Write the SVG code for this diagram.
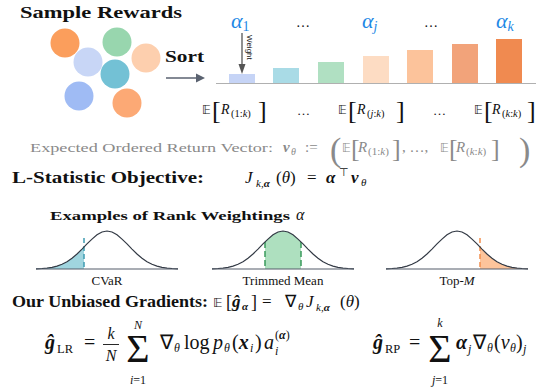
<svg xmlns="http://www.w3.org/2000/svg" width="536" height="390" viewBox="0 0 536 390" font-family="Liberation Serif">
<defs>
<style>
text{fill:#111;font-family:"Liberation Serif",serif}
.b{font-weight:bold}
.i{font-style:italic}
.bi{font-weight:bold;font-style:italic}
.bb{font-family:"DejaVu Sans",sans-serif}
.sn{font-family:"Liberation Sans",sans-serif}
.al{fill:#1e88e5;font-style:italic}
.gr{fill:#8a8a8a}
.curve{fill:none;stroke:#333a45;stroke-width:1.2}
.base{stroke:#555d6b;stroke-width:1.2}
</style>
<path id="bell" d="M-71,-0.21 L-65,-0.48 L-60,-0.92 L-55,-1.67 L-50,-2.87 L-45,-4.69 L-40,-7.28 L-35,-10.72 L-30,-14.99 L-25,-19.92 L-20,-25.14 L-15,-29.88 L-10,-34.27 L-5,-37.03 L0,-38 L5,-37.03 L10,-34.27 L15,-29.88 L20,-25.14 L25,-19.92 L30,-14.99 L35,-10.72 L40,-7.28 L45,-4.69 L50,-2.87 L55,-1.67 L60,-0.92 L65,-0.48 L71,-0.21"/>
</defs>
<rect width="536" height="390" fill="#fff"/>

<g id="samples">
<text class="b" x="20" y="18" font-size="17" textLength="162" lengthAdjust="spacingAndGlyphs">Sample Rewards</text>
<circle cx="65" cy="43" r="14.5" fill="#fb9e5c"/>
<circle cx="117" cy="42" r="14.5" fill="#98d6ae"/>
<circle cx="146" cy="58" r="14.5" fill="#fdcfae"/>
<circle cx="88" cy="62" r="14.5" fill="#c8d6f6"/>
<circle cx="115" cy="74" r="14.5" fill="#73c1d5"/>
<circle cx="79" cy="96" r="14.5" fill="#9fbbf4"/>
<circle cx="127" cy="103" r="14.5" fill="#fca975"/>
</g>

<g id="sort">
<text class="b" x="165" y="62" font-size="16" textLength="39" lengthAdjust="spacingAndGlyphs">Sort</text>
<line x1="166" y1="78" x2="197" y2="78" stroke="#5a6270" stroke-width="1.5"/>
<polygon points="196,73.5 205,78 196,82.5" fill="#5a6270"/>
</g>

<g id="bars">
<line x1="216" y1="83.5" x2="536" y2="83.5" stroke="#b0b0b0" stroke-width="1"/>
<rect x="229" y="74" width="26" height="9" fill="#c6d4f6"/>
<rect x="273" y="68" width="26" height="15" fill="#a9dbe6"/>
<rect x="318" y="62" width="26" height="21" fill="#b0e0c2"/>
<rect x="363" y="56" width="26" height="27" fill="#fddcc3"/>
<rect x="407" y="50" width="26" height="33" fill="#fcc39b"/>
<rect x="452" y="44" width="26" height="39" fill="#f2a37a"/>
<rect x="496" y="39" width="26" height="44" fill="#f08a50"/>
<text class="al" x="231" y="28" font-size="22">α<tspan font-size="14" font-style="normal" dy="3">1</tspan></text>
<text class="al" x="362" y="28" font-size="22">α<tspan font-size="14" dy="3">j</tspan></text>
<text class="al" x="496" y="28" font-size="22">α<tspan font-size="14" dy="3">k</tspan></text>
<text x="296" y="27" font-size="14" fill="#555">…</text>
<text x="424" y="27" font-size="14" fill="#555">…</text>
<line x1="242" y1="33" x2="242" y2="65" stroke="#555" stroke-width="1.3"/>
<polygon points="238.5,64 245.5,64 242,74" fill="#555"/>
<text class="sn" transform="translate(247,35) rotate(90)" font-size="8" fill="#9a9a9a">Weight</text>
</g>

<g id="exp-labels" font-size="14">
<text class="bb" x="202" y="114" font-size="12">𝔼</text>
<text x="212" y="119" font-size="26" fill="#444">[</text>
<text class="i" x="221" y="114">R</text>
<text x="231" y="117" font-size="10.5">(1:<tspan class="i">k</tspan>)</text>
<text x="258" y="119" font-size="26" fill="#444">]</text>
<text x="297" y="115" font-size="13" fill="#666">…</text>
<text class="bb" x="338" y="114" font-size="12">𝔼</text>
<text x="348" y="119" font-size="26" fill="#444">[</text>
<text class="i" x="357" y="114">R</text>
<text x="367" y="117" font-size="10.5">(<tspan class="i">j</tspan>:<tspan class="i">k</tspan>)</text>
<text x="396" y="119" font-size="26" fill="#444">]</text>
<text x="433" y="115" font-size="13" fill="#666">…</text>
<text class="bb" x="474" y="114" font-size="12">𝔼</text>
<text x="484" y="119" font-size="26" fill="#444">[</text>
<text class="i" x="492" y="114">R</text>
<text x="502" y="117" font-size="10.5">(<tspan class="i">k</tspan>:<tspan class="i">k</tspan>)</text>
<text x="527" y="119" font-size="26" fill="#444">]</text>
</g>

<g id="vector">
<text class="gr" x="30" y="152" font-size="13.5" textLength="243" lengthAdjust="spacingAndGlyphs">Expected Ordered Return Vector:</text>
<text class="gr bi" x="283" y="152" font-size="15">v</text>
<text class="gr i" x="291" y="155" font-size="10">θ</text>
<text class="gr" x="305" y="152" font-size="15">:=</text>
<text class="gr" x="330" y="161" font-size="34">(</text>
<text class="gr bb" x="342" y="152" font-size="12">𝔼</text>
<text class="gr" x="351" y="157" font-size="26">[</text>
<text class="gr i" x="358" y="152" font-size="15">R</text>
<text class="gr" x="368" y="155" font-size="11">(1:<tspan class="i">k</tspan>)</text>
<text class="gr" x="392" y="157" font-size="26">]</text>
<text class="gr" x="402" y="152" font-size="15">, …,</text>
<text class="gr bb" x="440" y="152" font-size="12">𝔼</text>
<text class="gr" x="449" y="157" font-size="26">[</text>
<text class="gr i" x="456" y="152" font-size="15">R</text>
<text class="gr" x="466" y="155" font-size="11">(<tspan class="i">k</tspan>:<tspan class="i">k</tspan>)</text>
<text class="gr" x="491" y="157" font-size="26">]</text>
<text class="gr" x="519" y="161" font-size="34">)</text>
</g>

<g id="objective">
<text class="b" x="12" y="183" font-size="16" textLength="192" lengthAdjust="spacingAndGlyphs">L-Statistic Objective:</text>
<text class="i" x="245" y="183" font-size="17">J</text>
<text x="256" y="187" font-size="11"><tspan class="i">k</tspan>,<tspan class="bi">α</tspan></text>
<text x="276" y="183" font-size="17">(<tspan class="i">θ</tspan>)</text>
<text x="307" y="183" font-size="17">=</text>
<text class="bi" x="326" y="183" font-size="17">α</text>
<text x="339" y="176" font-size="11">⊤</text>
<text class="bi" x="351" y="183" font-size="17">v</text>
<text class="i" x="361" y="186" font-size="11">θ</text>
</g>

<g id="weightings">
<text class="b" x="50" y="220" font-size="13.5" textLength="240" lengthAdjust="spacingAndGlyphs">Examples of Rank Weightings</text>
<text class="i" x="296" y="220" font-size="16">α</text>
</g>

<g id="cvar" transform="translate(107,269)">
<path d="M-71,0 L-71,-0.21 L-65,-0.48 L-60,-0.92 L-55,-1.67 L-50,-2.87 L-45,-4.69 L-40,-7.28 L-35,-10.72 L-30,-14.99 L-25,-19.92 L-23,-22 L-23,0 Z" fill="#a0d5df"/>
<line x1="-23" y1="-31" x2="-23" y2="0" stroke="#3f9cb3" stroke-width="1.5" stroke-dasharray="5,3"/>
<use href="#bell" class="curve"/>
<line x1="-71" y1="0" x2="71" y2="0" class="base"/>
<text x="0" y="16" font-size="13" text-anchor="middle">CVaR</text>
</g>

<g id="trimmed" transform="translate(283,269)">
<path d="M-18,0 L-18,-27.19 L-15,-29.88 L-10,-34.27 L-5,-37.03 L0,-38 L5,-37.03 L10,-34.27 L15,-29.88 L18,-27.19 L18,0 Z" fill="#aee0bf"/>
<line x1="-18" y1="-27" x2="-18" y2="0" stroke="#3a9a5c" stroke-width="1.5" stroke-dasharray="6,3"/>
<line x1="18" y1="-27" x2="18" y2="0" stroke="#3a9a5c" stroke-width="1.5" stroke-dasharray="6,3"/>
<use href="#bell" class="curve"/>
<line x1="-71" y1="0" x2="71" y2="0" class="base"/>
<text x="0" y="16" font-size="13" text-anchor="middle">Trimmed Mean</text>
</g>

<g id="topm" transform="translate(457,269)">
<path d="M23,0 L23,-22 L25,-19.92 L30,-14.99 L35,-10.72 L40,-7.28 L45,-4.69 L50,-2.87 L55,-1.67 L60,-0.92 L65,-0.48 L71,-0.21 L71,0 Z" fill="#fdc49b"/>
<line x1="23" y1="-31" x2="23" y2="0" stroke="#f28f4e" stroke-width="1.5" stroke-dasharray="5,3"/>
<use href="#bell" class="curve"/>
<line x1="-71" y1="0" x2="71" y2="0" class="base"/>
<text x="0" y="16" font-size="13" text-anchor="middle">Top-<tspan class="i">M</tspan></text>
</g>

<g id="gradients">
<text class="b" x="12" y="307" font-size="16.5" textLength="196" lengthAdjust="spacingAndGlyphs">Our Unbiased Gradients:</text>
<text class="bb" x="213" y="307" font-size="13">𝔼</text>
<text x="226" y="308" font-size="18">[</text>
<text class="bi" x="232" y="307" font-size="17">ĝ</text>
<text class="bi" x="242" y="310" font-size="11">α</text>
<text x="251" y="308" font-size="18">]</text>
<text x="262" y="307" font-size="17">=</text>
<text x="285" y="307" font-size="17">∇</text>
<text class="i" x="298" y="310" font-size="11">θ</text>
<text class="i" x="306" y="307" font-size="17">J</text>
<text x="316" y="311" font-size="11"><tspan class="i">k</tspan>,<tspan class="bi">α</tspan></text>
<text x="340" y="307" font-size="17">(<tspan class="i">θ</tspan>)</text>
</g>

<g id="lr">
<text class="bi" x="45" y="349" font-size="20">ĝ</text>
<text x="57" y="353" font-size="12.5">LR</text>
<text x="84" y="349" font-size="20">=</text>
<text class="i" x="111" y="339" font-size="16" text-anchor="middle">k</text>
<line x1="103" y1="344.5" x2="119" y2="344.5" stroke="#111" stroke-width="0.9"/>
<text class="i" x="111" y="361" font-size="16" text-anchor="middle">N</text>
<text x="138" y="362" font-size="40" text-anchor="middle">Σ</text>
<text class="i" x="138" y="329" font-size="12" text-anchor="middle">N</text>
<text x="138" y="384" font-size="12" text-anchor="middle"><tspan class="i">i</tspan>=1</text>
<text x="160" y="349" font-size="20">∇</text>
<text class="i" x="174" y="352" font-size="12">θ</text>
<text x="184" y="349" font-size="20">log</text>
<text class="i" x="213" y="349" font-size="20">p</text>
<text class="i" x="224" y="352" font-size="12">θ</text>
<text x="232" y="349" font-size="20">(<tspan class="bi">x</tspan></text>
<text class="i" x="250" y="352" font-size="12">i</text>
<text x="255" y="349" font-size="20">)</text>
<text class="i" x="264" y="349" font-size="20">a</text>
<text class="i" x="275" y="355" font-size="12">i</text>
<text x="275" y="339" font-size="12">(<tspan class="bi">α</tspan>)</text>
</g>

<g id="rp">
<text class="bi" x="373" y="349" font-size="20">ĝ</text>
<text x="385" y="353" font-size="12.5">RP</text>
<text x="409" y="349" font-size="20">=</text>
<text x="440" y="362" font-size="40" text-anchor="middle">Σ</text>
<text class="i" x="440" y="327" font-size="12" text-anchor="middle">k</text>
<text x="440" y="384" font-size="12" text-anchor="middle"><tspan class="i">j</tspan>=1</text>
<text class="bi" x="456" y="349" font-size="20">α</text>
<text class="i" x="468" y="353" font-size="12">j</text>
<text x="473" y="349" font-size="20">∇</text>
<text class="i" x="487" y="352" font-size="12">θ</text>
<text x="494" y="349" font-size="20">(<tspan class="i">v</tspan></text>
<text class="i" x="510" y="352" font-size="12">θ</text>
<text x="516" y="349" font-size="20">)</text>
<text class="i" x="523" y="353" font-size="12">j</text>
</g>
</svg>
